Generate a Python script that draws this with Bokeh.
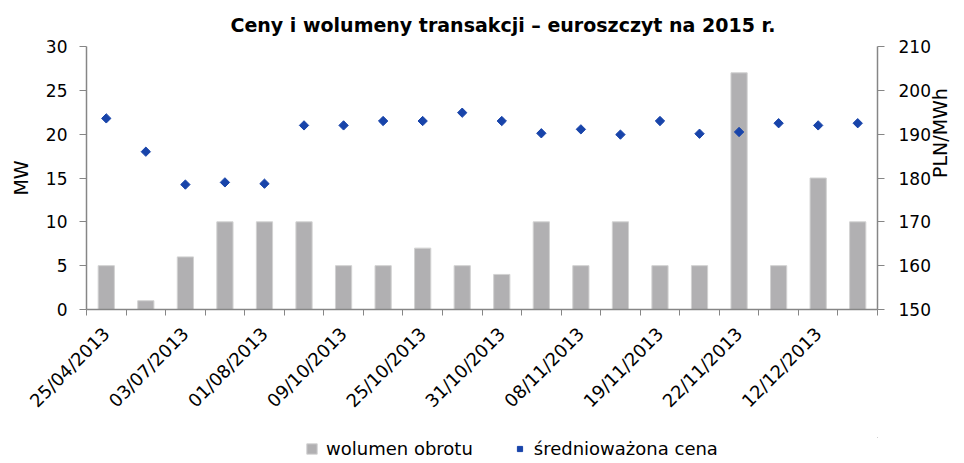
from math import pi
from bokeh.plotting import figure
from bokeh.layouts import column
from bokeh.models import (Range1d, LinearAxis, FixedTicker, Legend, LegendItem, Title)
from bokeh.embed import file_html
from bokeh.resources import INLINE

# ---- data ----
tick_labels = ["25/04/2013", "03/07/2013", "01/08/2013", "09/10/2013", "25/10/2013",
               "31/10/2013", "08/11/2013", "19/11/2013", "22/11/2013", "12/12/2013"]
volume = [5, 1, 6, 10, 10, 10, 5, 5, 7, 5, 4, 10, 5, 10, 5, 5, 27, 5, 15, 10]
price = [193.6, 186.0, 178.5, 179.0, 178.7, 192.0, 192.0, 193.0, 193.0, 194.9,
         193.0, 190.2, 191.1, 189.9, 193.0, 190.1, 190.5, 192.5, 192.0, 192.5]
idx = list(range(len(volume)))

FONT = "DejaVu Sans"
AX = "#868686"
BAR = dict(fill_color="#B1B0B2", line_color="#D2D2D2", line_width=1)
PT = dict(marker="square", angle=pi / 4, size=6.6, fill_color="#1844AA", line_color="#1844AA")

p = figure(width=964, height=437, output_backend="svg", toolbar_location=None,
           x_range=Range1d(-0.5, len(volume) - 0.5), y_range=Range1d(0, 30),
           min_border_left=86, min_border_right=87, min_border_top=46,
           min_border_bottom=128)
p.outline_line_color = None
p.grid.visible = False
p.extra_y_ranges = {"price": Range1d(150, 210)}

p.vbar(x=idx, top=volume, width=0.41, bottom=0, **BAR)
p.scatter(x=idx, y=price, y_range_name="price", **PT)

# x axis
xa = p.xaxis[0]
xa.ticker = FixedTicker(ticks=idx[::2], minor_ticks=[i - 0.5 for i in range(len(volume) + 1)])
xa.major_label_overrides = {i: lab for i, lab in zip(idx[::2], tick_labels)}
xa.major_label_orientation = pi / 4
xa.major_tick_out = 0
xa.major_tick_in = 0
xa.minor_tick_out = 6
xa.minor_tick_in = 0
xa.major_label_standoff = 15
xa.major_label_text_font = FONT
xa.major_label_text_font_size = "18px"
xa.major_label_text_color = "black"

# left axis
ya = p.yaxis[0]
ya.ticker = FixedTicker(ticks=[0, 5, 10, 15, 20, 25, 30])
ya.axis_label = "MW"

# right axis
ra = LinearAxis(y_range_name="price", ticker=FixedTicker(ticks=[150, 160, 170, 180, 190, 200, 210]),
                axis_label="PLN/MWh")
ra.axis_label_orientation = pi / 2
p.add_layout(ra, "right")

for ax in (xa, ya, ra):
    ax.axis_line_color = AX
    ax.major_tick_line_color = AX
    ax.minor_tick_line_color = AX
    ax.axis_line_width = 1.5

for ax in (ya, ra):
    ax.major_tick_out = 7
    ax.major_tick_in = 0
    ax.minor_tick_out = 0
    ax.minor_tick_in = 0
    ax.major_label_text_font = FONT
    ax.major_label_text_font_size = "17px"
    ax.major_label_text_color = "black"
    ax.axis_label_text_font = FONT
    ax.axis_label_text_font_size = "19px"
    ax.axis_label_text_font_style = "normal"
    ax.axis_label_text_color = "black"
ya.major_label_standoff = 12
ya.axis_label_standoff = 11
ra.major_label_standoff = 14
ra.axis_label_standoff = 6

# title
p.add_layout(Title(text="Ceny i wolumeny transakcji \u2013 euroszczyt na 2015 r.",
                   align="left", text_font=FONT, text_font_size="19px",
                   text_font_style="bold", text_color="black", offset=144, standoff=22), "above")

# legend strip (separate figure so the legend is not clipped); its ranges keep
# the proxy glyphs out of view, so only the legend swatches are drawn
lg = figure(width=964, height=26, output_backend="svg", toolbar_location=None,
            x_axis_location=None, y_axis_location=None, min_border=0,
            x_range=Range1d(-100, -99), y_range=Range1d(-100, -99))
lg.outline_line_color = None
lg.grid.visible = False
lb = lg.vbar(x=idx, top=volume, width=0.41, bottom=0, **BAR)
lp = lg.scatter(x=idx, y=price, **PT)
legend = Legend(items=[LegendItem(label="wolumen obrotu", renderers=[lb]),
                       LegendItem(label="\u015bredniowa\u017cona cena", renderers=[lp])],
                orientation="horizontal", location=(219, 4),
                label_text_font=FONT, label_text_font_size="18px", label_text_color="black",
                glyph_width=13, glyph_height=13, label_standoff=8, spacing=40,
                label_height=18, padding=0, margin=0, border_line_color=None,
                background_fill_alpha=0)
lg.add_layout(legend, "center")

open("out.html", "w").write(file_html(column(p, lg, spacing=0), INLINE))
